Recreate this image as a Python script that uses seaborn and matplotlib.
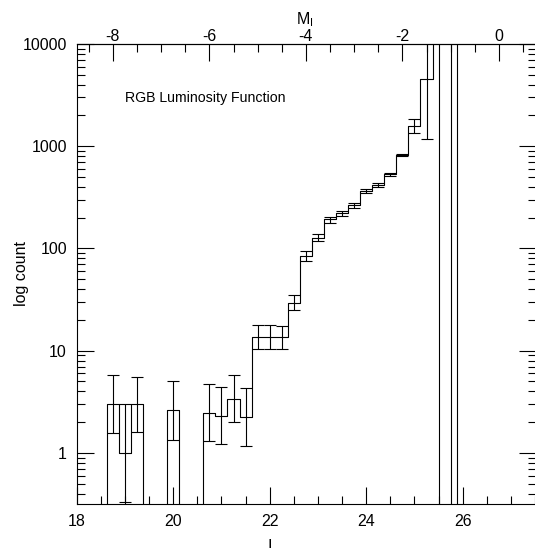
import numpy as np
import pandas as pd
import matplotlib
matplotlib.use("Agg")
import matplotlib.pyplot as plt
import seaborn as sns
from matplotlib.ticker import MultipleLocator, LogLocator, FuncFormatter, NullFormatter

sns.set_theme(style="ticks")
plt.rcParams["font.family"] = ["Liberation Sans", "DejaVu Sans"]
plt.rcParams["mathtext.fontset"] = "custom"
plt.rcParams["mathtext.rm"] = "Liberation Sans"
plt.rcParams["mathtext.it"] = "Liberation Sans"

# I-band magnitude bin centres (0.25 mag bins)
mag_bins = [18.5, 18.75, 19.0, 19.25, 19.5, 19.75, 20.0, 20.25, 20.5, 20.75,
            21.0, 21.25, 21.5, 21.75, 22.0, 22.25, 22.5, 22.75, 23.0, 23.25,
            23.5, 23.75, 24.0, 24.25, 24.5, 24.75, 25.0, 25.25, 25.5, 25.75, 26.0]
# star counts per bin (completeness corrected)
counts = [0, 3.0, 1.0, 3.0, 0, 0, 2.6, 0, 0, 2.48,
          2.31, 3.38, 2.24, 13.7, 13.7, 13.6, 29.5, 84, 127, 192,
          220, 266, 365, 421, 531, 822, 1580, 4540, 30000, 60000, 0]
# upper / lower limits of the error bars
upper = [np.nan, 5.8, 3.0, 5.5, np.nan, np.nan, 5.0, np.nan, np.nan, 4.7,
         4.37, 5.78, 4.27, 17.7, 17.7, 17.6, 35.3, 93.5, 137, 203,
         232, 280, 385, 440, 552, 848, 1850, 15000, 1e6, 1e6, np.nan]
lower = [np.nan, 1.55, 0.33, 1.6, np.nan, np.nan, 1.33, np.nan, np.nan, 1.32,
         1.22, 2.01, 1.16, 10.5, 10.5, 10.4, 24.8, 76, 118, 179,
         207, 251, 346, 403, 511, 804, 1340, 1170, 0.05, 0.05, np.nan]

x_ticks = [18, 20, 22, 24, 26]
abs_mag_ticks = [-8, -6, -4, -2, 0]
y_ticks = [1, 10, 100, 1000, 10000]
distance_modulus = 26.75
bin_width = 0.25

df = pd.DataFrame({"I": mag_bins, "count": counts, "upper": upper, "lower": lower})
bin_range = (mag_bins[0] - bin_width / 2, mag_bins[-1] + bin_width / 2)

fig = plt.figure(figsize=(5.35, 5.48), dpi=100)
ax = fig.add_axes([76.7 / 535, 44 / 548, 459.3 / 535, 460 / 548])
ax.set_yscale("log")

lw = 0.8
sns.histplot(data=df, x="I", weights="count", binwidth=bin_width,
             binrange=bin_range, element="step", fill=False, color="black",
             linewidth=lw, ax=ax)

err = df[df["count"] > 0]
ax.errorbar(err["I"], err["count"],
            yerr=[err["count"] - err["lower"], err["upper"] - err["count"]],
            fmt="none", ecolor="black", elinewidth=lw, capsize=4.3, capthick=lw)

ax.set_xlim(18, 18 + 459.3 / 48.25)
ax.set_ylim(10 ** -0.5, 1e4)

# axes styling
for s in ax.spines.values():
    s.set_color("black")
    s.set_linewidth(lw)

tick_fs = 11.5
ax.xaxis.set_major_locator(MultipleLocator(2))
ax.xaxis.set_minor_locator(MultipleLocator(0.5))
ax.yaxis.set_major_locator(LogLocator(base=10))
ax.yaxis.set_minor_locator(LogLocator(base=10, subs=np.arange(2, 10)))
ax.yaxis.set_major_formatter(FuncFormatter(lambda v, p: f"{v:g}" if v in y_ticks else ""))
ax.yaxis.set_minor_formatter(NullFormatter())
ax.xaxis.set_major_formatter(FuncFormatter(lambda v, p: f"{v:g}"))

ax.tick_params(which="both", direction="in", color="black", width=lw,
               labelsize=tick_fs, labelcolor="black", bottom=True, left=True,
               right=True, top=False)
ax.tick_params(which="major", length=12.2, pad=7)
ax.tick_params(which="minor", length=5.8)

secax = ax.secondary_xaxis("top", functions=(lambda x: x - distance_modulus,
                                             lambda m: m + distance_modulus))
secax.xaxis.set_major_locator(MultipleLocator(2))
secax.xaxis.set_minor_locator(MultipleLocator(0.5))
secax.xaxis.set_major_formatter(FuncFormatter(lambda v, p: f"{v:g}"))
secax.tick_params(which="both", direction="in", color="black", width=lw,
                  labelsize=tick_fs, labelcolor="black")
secax.tick_params(which="major", length=12.2, pad=0)
secax.tick_params(which="minor", length=5.8)
secax.spines["top"].set_color("black")
secax.spines["top"].set_linewidth(lw)

ax.set_xlabel("I", fontsize=11.5, color="black")
ax.xaxis.set_label_coords(0.421, -0.076)
ax.set_ylabel("log count", fontsize=11.5, color="black")
ax.yaxis.set_label_coords(-0.104, 0.5)

# absolute-magnitude axis title, above the "-4" tick label
fig.text(305 / 535, 1 - 24.5 / 548, r"M$_\mathrm{I}$", fontsize=11.5,
         color="black", ha="center", va="baseline")

ax.text(0.105, 0.883, "RGB Luminosity Function", transform=ax.transAxes,
        ha="left", va="center", fontsize=10.2, color="black")

fig.savefig("out.png", dpi=100, facecolor="white")
